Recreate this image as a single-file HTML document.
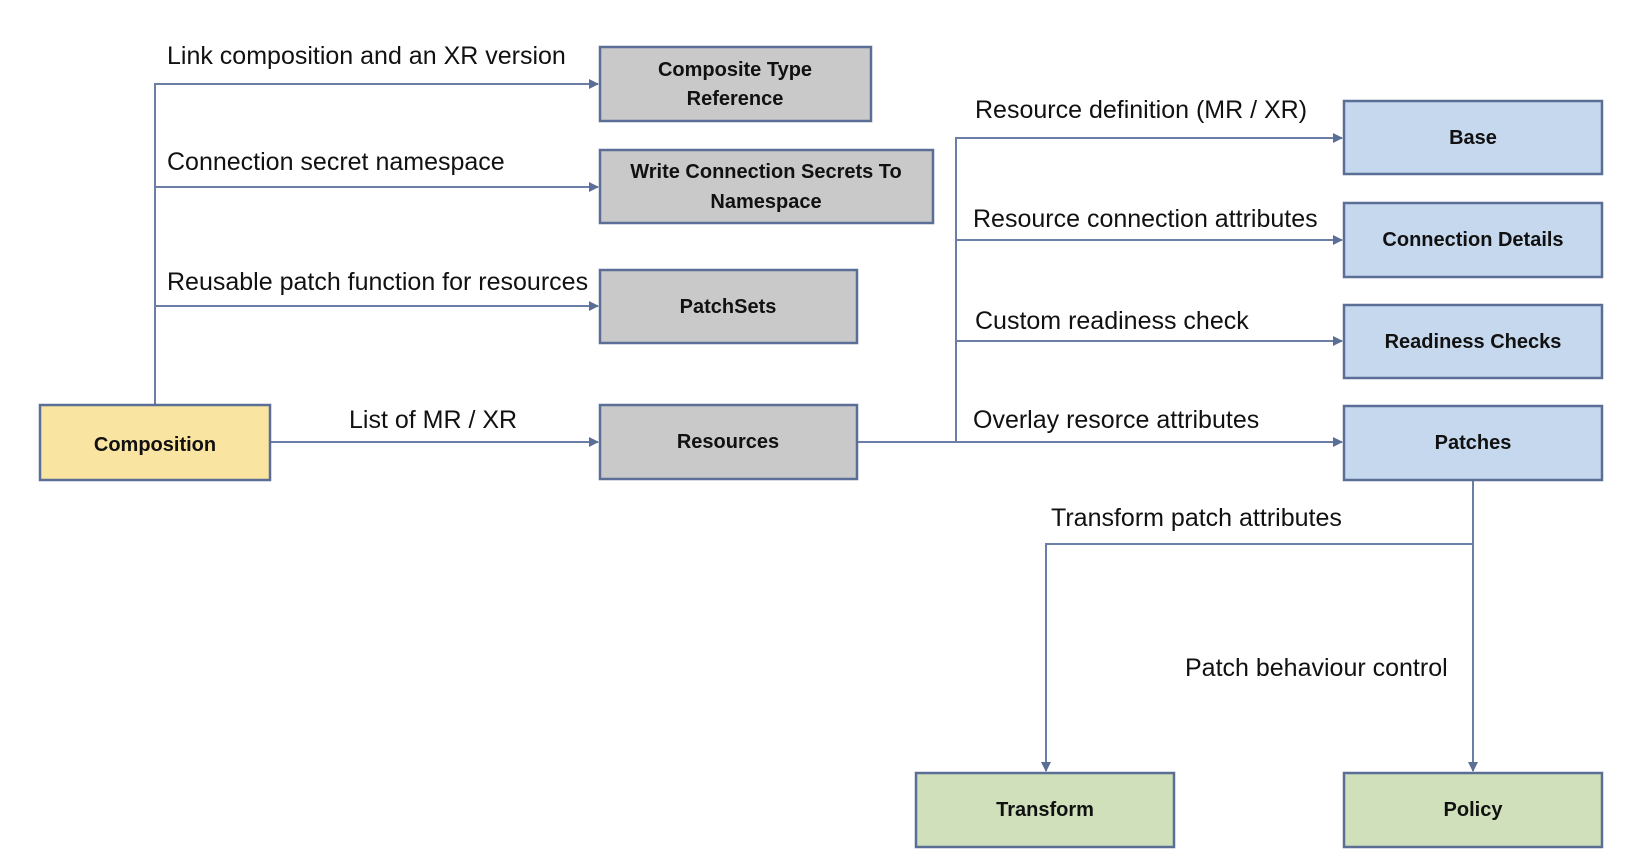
<!DOCTYPE html>
<html><head><meta charset="utf-8"><style>
html,body{margin:0;padding:0;background:#fff;}
svg{display:block}
.l{font-family:"Liberation Sans",sans-serif;font-size:25px;fill:#111;dominant-baseline:central}
.b{font-family:"Liberation Sans",sans-serif;font-size:20px;font-weight:bold;fill:#111;text-anchor:middle;dominant-baseline:central}
rect{stroke:#5b6f96;stroke-width:2.5}
.c{stroke:#6a7ea6;stroke-width:2;fill:none}
</style></head><body>
<svg width="1650" height="858" viewBox="0 0 1650 858" xmlns="http://www.w3.org/2000/svg">
<defs><marker id="a" markerWidth="10" markerHeight="10" refX="9" refY="5" orient="auto" markerUnits="userSpaceOnUse"><path d="M0,0 L10,5 L0,10 z" fill="#5b6f96"/></marker></defs>
<path class="c" d="M155,405 V84 H598" marker-end="url(#a)"/>
<path class="c" d="M155,187 H598" marker-end="url(#a)"/>
<path class="c" d="M155,306 H598" marker-end="url(#a)"/>
<path class="c" d="M270,442 H598" marker-end="url(#a)"/>
<path class="c" d="M857,442 H1342" marker-end="url(#a)"/>
<path class="c" d="M956,442 V138 H1342" marker-end="url(#a)"/>
<path class="c" d="M956,240 H1342" marker-end="url(#a)"/>
<path class="c" d="M956,341 H1342" marker-end="url(#a)"/>
<path class="c" d="M1473,480 V771" marker-end="url(#a)"/>
<path class="c" d="M1473,544 H1046 V771" marker-end="url(#a)"/>
<rect x="600" y="47" width="271" height="74" fill="#c9c9c9"/>
<text class="b" x="735" y="70">Composite Type</text><text class="b" x="735" y="99">Reference</text>
<rect x="600" y="150" width="333" height="73" fill="#c9c9c9"/>
<text class="b" x="766" y="172">Write Connection Secrets To</text><text class="b" x="766" y="202">Namespace</text>
<rect x="600" y="270" width="257" height="73" fill="#c9c9c9"/>
<text class="b" x="728" y="307">PatchSets</text>
<rect x="600" y="405" width="257" height="74" fill="#c9c9c9"/>
<text class="b" x="728" y="442">Resources</text>
<rect x="40" y="405" width="230" height="75" fill="#f9e4a2"/>
<text class="b" x="155" y="445">Composition</text>
<rect x="1344" y="101" width="258" height="73" fill="#c6d8ed"/>
<text class="b" x="1473" y="138">Base</text>
<rect x="1344" y="203" width="258" height="74" fill="#c6d8ed"/>
<text class="b" x="1473" y="240">Connection Details</text>
<rect x="1344" y="305" width="258" height="73" fill="#c6d8ed"/>
<text class="b" x="1473" y="342">Readiness Checks</text>
<rect x="1344" y="406" width="258" height="74" fill="#c6d8ed"/>
<text class="b" x="1473" y="443">Patches</text>
<rect x="916" y="773" width="258" height="74" fill="#cfe0ba"/>
<text class="b" x="1045" y="810">Transform</text>
<rect x="1344" y="773" width="258" height="74" fill="#cfe0ba"/>
<text class="b" x="1473" y="810">Policy</text>
<text class="l" x="167" y="56">Link composition and an XR version</text>
<text class="l" x="167" y="162">Connection secret namespace</text>
<text class="l" x="167" y="282">Reusable patch function for resources</text>
<text class="l" x="349" y="420">List of MR / XR</text>
<text class="l" x="975" y="110">Resource definition (MR / XR)</text>
<text class="l" x="973" y="219">Resource connection attributes</text>
<text class="l" x="975" y="321">Custom readiness check</text>
<text class="l" x="973" y="420">Overlay resorce attributes</text>
<text class="l" x="1051" y="518">Transform patch attributes</text>
<text class="l" x="1185" y="668">Patch behaviour control</text>
</svg>
</body></html>
